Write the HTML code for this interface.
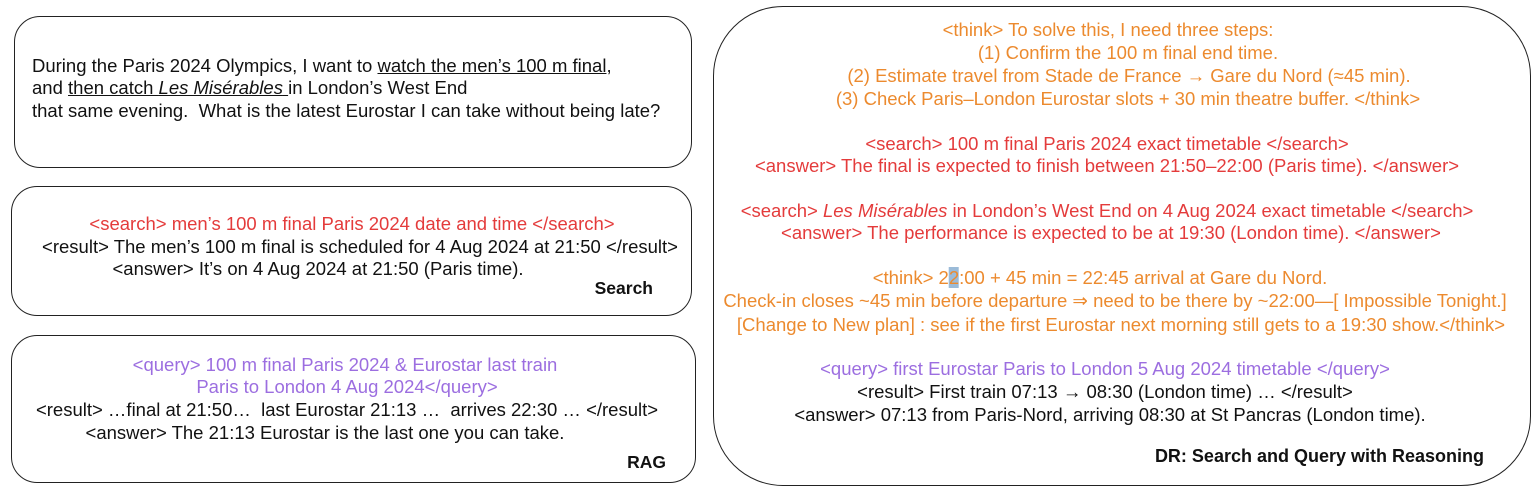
<!DOCTYPE html>
<html><head><meta charset="utf-8"><style>
body{margin:0;width:1540px;height:496px;background:#fff;position:relative;overflow:hidden;font-family:"Liberation Sans","DejaVu Sans",sans-serif;font-size:18.5px;color:#111}
.b{position:absolute;border:1.5px solid #222;box-sizing:border-box}
.l{position:absolute;white-space:nowrap;transform:translateX(-50%)}
.ll{position:absolute;white-space:nowrap}
.o{color:#ec8a2e}.r{color:#e43b3b}.p{color:#9c6ee0}
.lab{position:absolute;font-weight:bold;font-size:17.5px;white-space:nowrap;transform:translateX(-100%)}
u{text-decoration-thickness:1px}
</style></head><body>
<div class="b" style="left:14px;top:16px;width:678px;height:152px;border-radius:26px"></div>
<div class="b" style="left:11px;top:186px;width:681px;height:130px;border-radius:26px"></div>
<div class="b" style="left:11px;top:335px;width:685px;height:148px;border-radius:26px"></div>
<div class="b" style="left:713px;top:6px;width:818px;height:480px;border-radius:70px"></div>

<div class="ll" style="left:32px;top:55px">During the Paris 2024 Olympics, I want to <u>watch the men’s 100 m final</u>,</div>
<div class="ll" style="left:32px;top:77px">and <u>then catch <i>Les Misérables</i> </u>in London’s West End</div>
<div class="ll" style="left:32px;top:100px">that same evening.&nbsp; What is the latest Eurostar I can take without being late?</div>

<div class="l r" style="left:352px;top:213px">&lt;search&gt; men’s 100 m final Paris 2024 date and time &lt;/search&gt;</div>
<div class="l" style="left:360px;top:236px">&lt;result&gt; The men’s 100 m final is scheduled for 4 Aug 2024 at 21:50 &lt;/result&gt;</div>
<div class="l" style="left:318px;top:258px">&lt;answer&gt; It’s on 4 Aug 2024 at 21:50 (Paris time).</div>
<div class="lab" style="left:653px;top:278px">Search</div>

<div class="l p" style="left:345px;top:354px">&lt;query&gt; 100 m final Paris 2024 &amp; Eurostar last train</div>
<div class="l p" style="left:347px;top:376px">Paris to London 4 Aug 2024&lt;/query&gt;</div>
<div class="l" style="left:347px;top:399px">&lt;result&gt; …final at 21:50…&nbsp; last Eurostar 21:13 …&nbsp; arrives 22:30 … &lt;/result&gt;</div>
<div class="l" style="left:325px;top:422px">&lt;answer&gt; The 21:13 Eurostar is the last one you can take.</div>
<div class="lab" style="left:666px;top:452px">RAG</div>

<div class="l o" style="left:1108px;top:19px">&lt;think&gt; To solve this, I need three steps:</div>
<div class="l o" style="left:1128px;top:42px">(1) Confirm the 100 m final end time.</div>
<div class="l o" style="left:1129px;top:65px">(2) Estimate travel from Stade de France → Gare du Nord (≈45 min).</div>
<div class="l o" style="left:1128px;top:88px">(3) Check Paris–London Eurostar slots + 30 min theatre buffer. &lt;/think&gt;</div>
<div class="l r" style="left:1107px;top:133px">&lt;search&gt; 100 m final Paris 2024 exact timetable &lt;/search&gt;</div>
<div class="l r" style="left:1107px;top:155px">&lt;answer&gt; The final is expected to finish between 21:50–22:00 (Paris time). &lt;/answer&gt;</div>
<div class="l r" style="left:1107px;top:200px">&lt;search&gt; <i>Les Misérables</i> in London’s West End on 4 Aug 2024 exact timetable &lt;/search&gt;</div>
<div class="l r" style="left:1111px;top:222px">&lt;answer&gt; The performance is expected to be at 19:30 (London time). &lt;/answer&gt;</div>
<div class="l o" style="left:1100px;top:267px">&lt;think&gt; 2<span style="background:#9bbbd8">2</span>:00 + 45 min = 22:45 arrival at Gare du Nord.</div>
<div class="l o" style="left:1115px;top:290px">Check-in closes ~45 min before departure ⇒ need to be there by ~22:00—[ Impossible Tonight.]</div>
<div class="l o" style="left:1121px;top:314px">[Change to New plan] : see if the first Eurostar next morning still gets to a 19:30 show.&lt;/think&gt;</div>
<div class="l p" style="left:1105px;top:358px">&lt;query&gt; first Eurostar Paris to London 5 Aug 2024 timetable &lt;/query&gt;</div>
<div class="l" style="left:1105px;top:381px">&lt;result&gt; First train 07:13 → 08:30 (London time) … &lt;/result&gt;</div>
<div class="l" style="left:1110px;top:404px">&lt;answer&gt; 07:13 from Paris-Nord, arriving 08:30 at St Pancras (London time).</div>
<div class="lab" style="left:1484px;top:446px;font-size:18px">DR: Search and Query with Reasoning</div>
</body></html>
